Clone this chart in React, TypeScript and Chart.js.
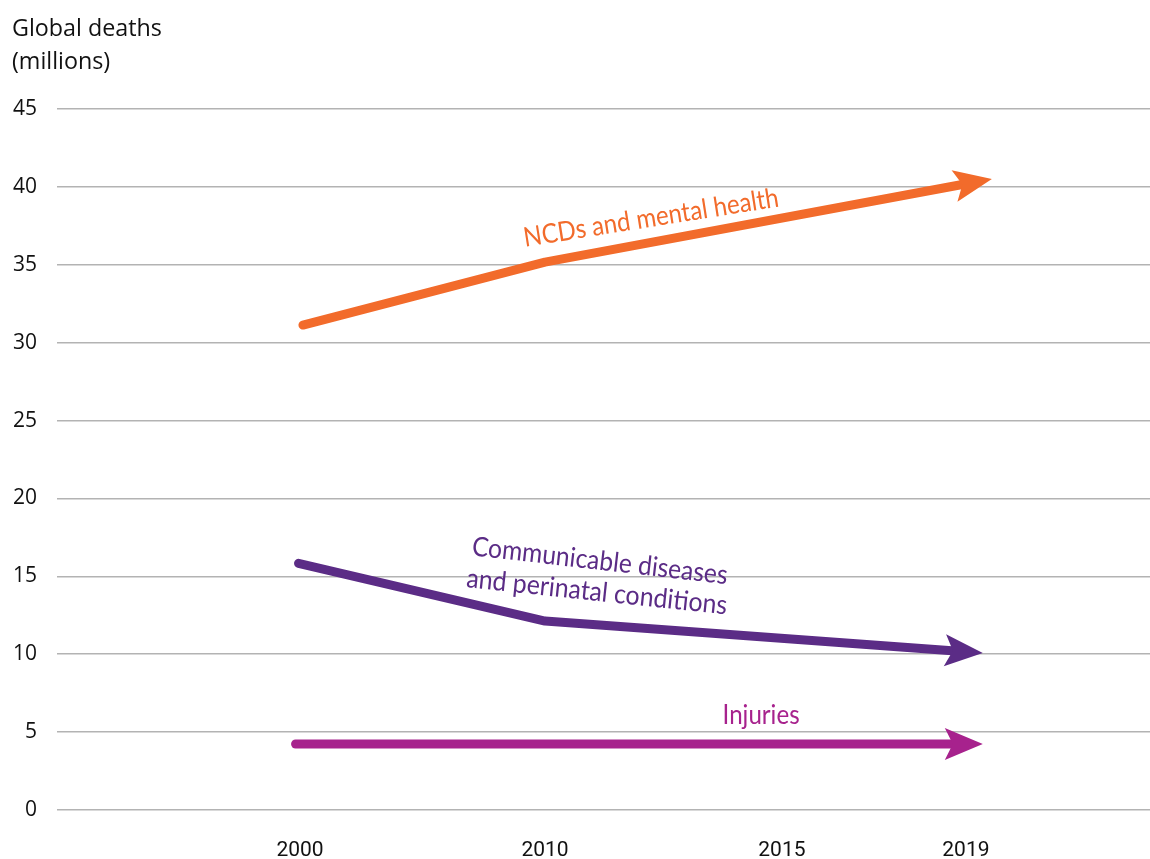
import React, { useEffect, useRef } from 'react';
import { Chart, registerables } from 'chart.js';

Chart.register(...registerables);

// ---- data ----
const yearLabels = ['2000', '2010', '2015', '2019'];
// position of each year label along the (hand-drawn, non-uniform) timeline axis
const yearAxisPos = [0, 1, 1.967, 2.718];

const ncdX = [0.012, 1, 2.824];
const ncdDeaths = [31.13, 35.17, 40.5];

const communicableX = [-0.006, 1, 2.787];
const communicableDeaths = [15.83, 12.13, 10.08];

const injuriesX = [-0.018, 1, 2.787];
const injuriesDeaths = [4.24, 4.24, 4.24];

const yTickValues = [0, 5, 10, 15, 20, 25, 30, 35, 40, 45];

const titleLines = ['Global deaths', '(millions)'];

// ---- styles ----
const ORANGE = '#F26B2B';
const PURPLE = '#5B2C86';
const MAGENTA = '#A7228D';

const noteLabels = [
  { text: 'NCDs and mental health', x: 1.433, y: 38.0, angle: -9, width: 258, color: ORANGE },
  { text: 'Communicable diseases', x: 1.224, y: 15.98, angle: 6.5, width: 257, color: PURPLE },
  { text: 'and perinatal conditions', x: 1.212, y: 13.99, angle: 6, width: 262, color: PURPLE },
  { text: 'Injuries', x: 1.882, y: 6.1, angle: 0, width: 77, color: MAGENTA },
];

const toPoints = (xs: number[], ys: number[]) => xs.map((x, i) => ({ x, y: ys[i] }));

const arrowPlugin = {
  id: 'arrowHeads',
  beforeDatasetDraw(chart: any, args: any) {
    const pts = args.meta.data;
    args.meta._arrowClip = false;
    if (!pts || pts.length < 2) return;
    const a = pts[pts.length - 2];
    const b = pts[pts.length - 1];
    const dx = b.x - a.x;
    const dy = b.y - a.y;
    const L = Math.hypot(dx, dy) || 1;
    const ux = dx / L;
    const uy = dy / L;
    const cut = 20;
    const bx = b.x - ux * cut;
    const by = b.y - uy * cut;
    const nx = -uy;
    const ny = ux;
    const big = 5000;
    const ctx = chart.ctx;
    ctx.save();
    ctx.beginPath();
    ctx.moveTo(bx + nx * big, by + ny * big);
    ctx.lineTo(bx - nx * big, by - ny * big);
    ctx.lineTo(bx - nx * big - ux * big, by - ny * big - uy * big);
    ctx.lineTo(bx + nx * big - ux * big, by + ny * big - uy * big);
    ctx.closePath();
    ctx.clip();
    args.meta._arrowClip = true;
  },
  afterDatasetDraw(chart: any, args: any) {
    if (!args.meta._arrowClip) return;
    const ctx = chart.ctx;
    ctx.restore();
    const pts = args.meta.data;
    const a = pts[pts.length - 2];
    const b = pts[pts.length - 1];
    const dx = b.x - a.x;
    const dy = b.y - a.y;
    const L = Math.hypot(dx, dy) || 1;
    const ux = dx / L;
    const uy = dy / L;
    const nx = -uy;
    const ny = ux;
    const len = 38;
    const half = 16;
    const notch = 8;
    const backX = b.x - ux * len;
    const backY = b.y - uy * len;
    const notchX = b.x - ux * (len - notch);
    const notchY = b.y - uy * (len - notch);
    ctx.save();
    ctx.fillStyle = chart.data.datasets[args.index].borderColor;
    ctx.beginPath();
    ctx.moveTo(b.x, b.y);
    ctx.lineTo(backX + nx * half, backY + ny * half);
    ctx.lineTo(notchX, notchY);
    ctx.lineTo(backX - nx * half, backY - ny * half);
    ctx.closePath();
    ctx.fill();
    ctx.restore();
  },
};

const notePlugin = {
  id: 'noteLabels',
  afterDatasetsDraw(chart: any) {
    const ctx = chart.ctx;
    const xs = chart.scales.x;
    const ys = chart.scales.y;
    for (const n of noteLabels) {
      const px = xs.getPixelForValue(n.x);
      const py = ys.getPixelForValue(n.y);
      ctx.save();
      ctx.translate(px, py);
      ctx.rotate((n.angle * Math.PI) / 180);
      ctx.font = '27px Lato, "Noto Sans", sans-serif';
      const w = ctx.measureText(n.text).width;
      ctx.scale(n.width / w, 1);
      ctx.fillStyle = n.color;
      ctx.textAlign = 'center';
      ctx.textBaseline = 'middle';
      ctx.fillText(n.text, 0, 0);
      ctx.restore();
    }
  },
};

export default function App() {
  const ref = useRef<HTMLCanvasElement | null>(null);

  useEffect(() => {
    if (!ref.current) return;
    const chart = new Chart(ref.current, {
      type: 'line',
      data: {
        datasets: [
          {
            label: 'NCDs and mental health',
            data: toPoints(ncdX, ncdDeaths),
            borderColor: ORANGE,
            backgroundColor: ORANGE,
          },
          {
            label: 'Communicable diseases and perinatal conditions',
            data: toPoints(communicableX, communicableDeaths),
            borderColor: PURPLE,
            backgroundColor: PURPLE,
          },
          {
            label: 'Injuries',
            data: toPoints(injuriesX, injuriesDeaths),
            borderColor: MAGENTA,
            backgroundColor: MAGENTA,
          },
        ],
      },
      options: {
        responsive: false,
        animation: false,
        devicePixelRatio: 1,
        layout: { padding: { left: 12, top: 0, right: 0, bottom: 0 } },
        elements: {
          line: { borderWidth: 9, tension: 0, borderCapStyle: 'round', borderJoinStyle: 'round', fill: false },
          point: { radius: 0, hoverRadius: 0 },
        },
        plugins: {
          legend: { display: false },
          tooltip: { enabled: false },
          title: {
            display: true,
            text: titleLines,
            align: 'start',
            color: '#111111',
            font: { family: '"Open Sans", sans-serif', size: 23.3, weight: 'normal', lineHeight: 1.43 },
            padding: { top: 12.5, bottom: 29.8 },
          },
        },
        scales: {
          x: {
            type: 'linear',
            min: -0.9918,
            max: 3.4694,
            afterBuildTicks(scale: any) {
              scale.ticks = yearAxisPos.map((v) => ({ value: v }));
            },
            afterFit(scale: any) {
              scale.height = 49;
            },
            ticks: {
              autoSkip: false,
              maxRotation: 0,
              padding: 28,
              color: '#111111',
              font: { family: 'Roboto, sans-serif', size: 21 },
              callback: (v: any) => {
                const i = yearAxisPos.indexOf(Number(v));
                return i >= 0 ? yearLabels[i] : '';
              },
            },
            grid: { display: false, drawTicks: false },
            border: { display: false },
          },
          y: {
            min: 0,
            max: 45,
            afterBuildTicks(scale: any) {
              scale.ticks = yTickValues.map((v) => ({ value: v }));
            },
            afterFit(scale: any) {
              scale.width = 45;
            },
            ticks: {
              padding: 20,
              color: '#111111',
              font: { family: '"Open Sans", sans-serif', size: 21 },
            },
            grid: { color: '#b3b3b3', lineWidth: 1.5, drawTicks: false },
            border: { display: false },
          },
        },
      },
      plugins: [arrowPlugin, notePlugin],
    } as any);
    return () => chart.destroy();
  }, []);

  return (
    <div style={{ position: 'absolute', left: 0, top: 0, width: 1150, height: 859, background: '#ffffff' }}>
      <canvas ref={ref} width={1150} height={859} style={{ display: 'block', width: 1150, height: 859 }} />
    </div>
  );
}
